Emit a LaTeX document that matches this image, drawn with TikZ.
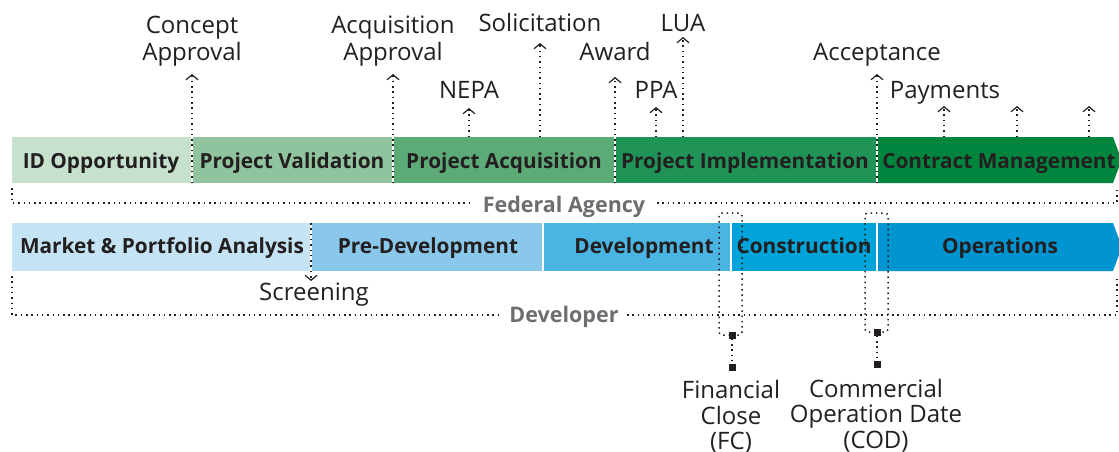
\documentclass[tikz,border=0pt]{standalone}
\usepackage{fontspec}
\setmainfont{Open Sans}
\usetikzlibrary{arrows.meta}
\definecolor{g1}{HTML}{C6E2CE}
\definecolor{g2}{HTML}{8FC49E}
\definecolor{g3}{HTML}{5CAA76}
\definecolor{g4}{HTML}{209457}
\definecolor{g5}{HTML}{00853E}
\definecolor{b1}{HTML}{C4E3F4}
\definecolor{b2}{HTML}{8AC8EB}
\definecolor{b3}{HTML}{4AB4E2}
\definecolor{b4}{HTML}{00A4D9}
\definecolor{b5}{HTML}{0094D0}
\definecolor{ink}{HTML}{231F20}
\definecolor{grayt}{HTML}{6D6E71}
\begin{document}
\begin{tikzpicture}[x=1pt,y=-1pt,
  dot/.style={ink, line width=1.5pt, dash pattern=on 1.5pt off 3.8pt},
  ms/.style={dot, -{Straight Barb[length=5pt,width=12pt,line width=1.2pt]}},
  sep/.style={white, line width=1.6pt},
  blab/.style={anchor=base, text=ink, inner sep=0, font=\bfseries\fontsize{20.8}{24}\selectfont},
  mlab/.style={anchor=base, text=ink, inner sep=0, font=\fontsize{24}{27}\selectfont},
  glab/.style={anchor=base, text=grayt, inner sep=0, font=\bfseries\fontsize{21.5}{24}\selectfont},
  sq/.style={fill=ink, minimum size=7pt, inner sep=0, draw=none}]
\useasboundingbox (0,0) rectangle (1119,452);
% ---------- green bar ----------
\fill[g1] (12,137) rectangle (192,183);
\fill[g2] (192,137) rectangle (393,183);
\fill[g3] (393,137) rectangle (615,183);
\fill[g4] (615,137) rectangle (877,183);
\fill[g5] (877,137) -- (1113,137) -- (1119,153) -- (1119,167) -- (1113,183) -- (877,183) -- cycle;
\foreach \x in {192,393,615,877} \draw[sep] (\x,137) -- (\x,183);
\node[blab] (s1) at (101,168) {ID Opportunity};
\node[blab] (s2) at (292,168) {Project Validation};
\node[blab] (s3) at (504,168) {Project Acquisition};
\node[blab] (s4) at (745,168) {Project Implementation};
\node[blab] (s5) at (999,168) {Contract Management};
% ---------- blue bar ----------
\fill[b1] (12,223) rectangle (311,271);
\fill[b2] (311,223) rectangle (543,271);
\fill[b3] (543,223) rectangle (731,271);
\fill[b4] (731,223) rectangle (877,271);
\fill[b5] (877,223) -- (1113,223) -- (1119,239) -- (1119,255) -- (1113,271) -- (877,271) -- cycle;
\foreach \x in {311,543,731,877} \draw[sep] (\x,223) -- (\x,271);
\node[blab] (d1) at (162,253) {Market \& Portfolio Analysis};
\node[blab] (d2) at (428,253) {Pre-Development};
\node[blab] (d3) at (644,253) {Development};
\node[blab] (d4) at (804,253) {Construction};
\node[blab] (d5) at (1000,253) {Operations};
% ---------- milestone labels ----------
\node[mlab] (ca1) at (192,34) {Concept};
\node[mlab] (ca2) at (192,61) {Approval};
\node[mlab] (aa1) at (393,34) {Acquisition};
\node[mlab] (aa2) at (393,61) {Approval};
\node[mlab] (sol) at (540,32) {Solicitation};
\node[mlab] (awd) at (615,61) {Award};
\node[mlab] (nep) at (469,99) {NEPA};
\node[mlab] (ppa) at (656,99) {PPA};
\node[mlab] (lua) at (683,32) {LUA};
\node[mlab] (acc) at (877,61) {Acceptance};
\node[mlab] (pay) at (945,99) {Payments};
% ---------- milestone arrows ----------
\coordinate (caB) at (192,183); \coordinate (caT) at (192,74);
\coordinate (aaB) at (393,183); \coordinate (aaT) at (393,74);
\coordinate (nB) at (469,137);  \coordinate (nT) at (469,108);
\coordinate (sB) at (540,137);  \coordinate (sT) at (540,43);
\coordinate (awB) at (615,183); \coordinate (awT) at (615,77);
\coordinate (pB) at (656,137);  \coordinate (pT) at (656,107);
\coordinate (lB) at (683,137);  \coordinate (lT) at (683,37);
\coordinate (acB) at (877,183); \coordinate (acT) at (877,74);
\coordinate (p1B) at (944,137); \coordinate (p1T) at (944,106);
\coordinate (p2B) at (1017,137); \coordinate (p2T) at (1017,106);
\coordinate (p3B) at (1089,137); \coordinate (p3T) at (1089,106);
\foreach \a/\b in {caB/caT,aaB/aaT,nB/nT,sB/sT,awB/awT,pB/pT,lB/lT,acB/acT,p1B/p1T,p2B/p2T,p3B/p3T}
  \draw[ms] (\a) -- (\b);
% ---------- Federal Agency bracket ----------
\node[glab] (fa) at (564,212) {Federal Agency};
\coordinate (fa1) at (12,188); \coordinate (fa2) at (472,203);
\coordinate (fa3) at (657,203); \coordinate (fa4) at (1117,188);
\draw[dot] (fa1) |- (fa2);
\draw[dot] (fa3) -| (fa4);
% ---------- Developer bracket ----------
\node[glab] (dv) at (564,322) {Developer};
\coordinate (dv1) at (12,276); \coordinate (dv2) at (498,315);
\coordinate (dv3) at (627,315); \coordinate (dv4) at (1117,276);
\draw[dot] (dv1) |- (dv2);
\draw[dot] (dv3) -| (dv4);
% ---------- Screening ----------
\node[mlab] (scr) at (314,300) {Screening};
\coordinate (scB) at (311,223); \coordinate (scT) at (311,281);
\draw[ms] (scB) -- (scT);
% ---------- Financial Close ----------
\node[sq] (fq1) at (732,335) {};
\node[sq] (fq2) at (732,367) {};
\draw[dot, rounded corners=3pt] (fq1.center) -- (742,335) -- (742,213) -- (719,213) -- (719,335) -- (fq1.center);
\draw[dot] (fq1) -- (fq2);
\node[mlab] (fc1) at (731,398) {Financial};
\node[mlab] (fc2) at (731,424) {Close};
\node[mlab] (fc3) at (731,449) {(FC)};
% ---------- Commercial Operation Date ----------
\node[sq] (cq1) at (877,332) {};
\node[sq] (cq2) at (877,364) {};
\draw[dot, rounded corners=3pt] (cq1.center) -- (888,332) -- (888,213) -- (865,213) -- (865,332) -- (cq1.center);
\draw[dot] (cq1) -- (cq2);
\node[mlab] (cd1) at (876,397) {Commercial};
\node[mlab] (cd2) at (876,422) {Operation Date};
\node[mlab] (cd3) at (876,448) {(COD)};
\end{tikzpicture}
\end{document}
